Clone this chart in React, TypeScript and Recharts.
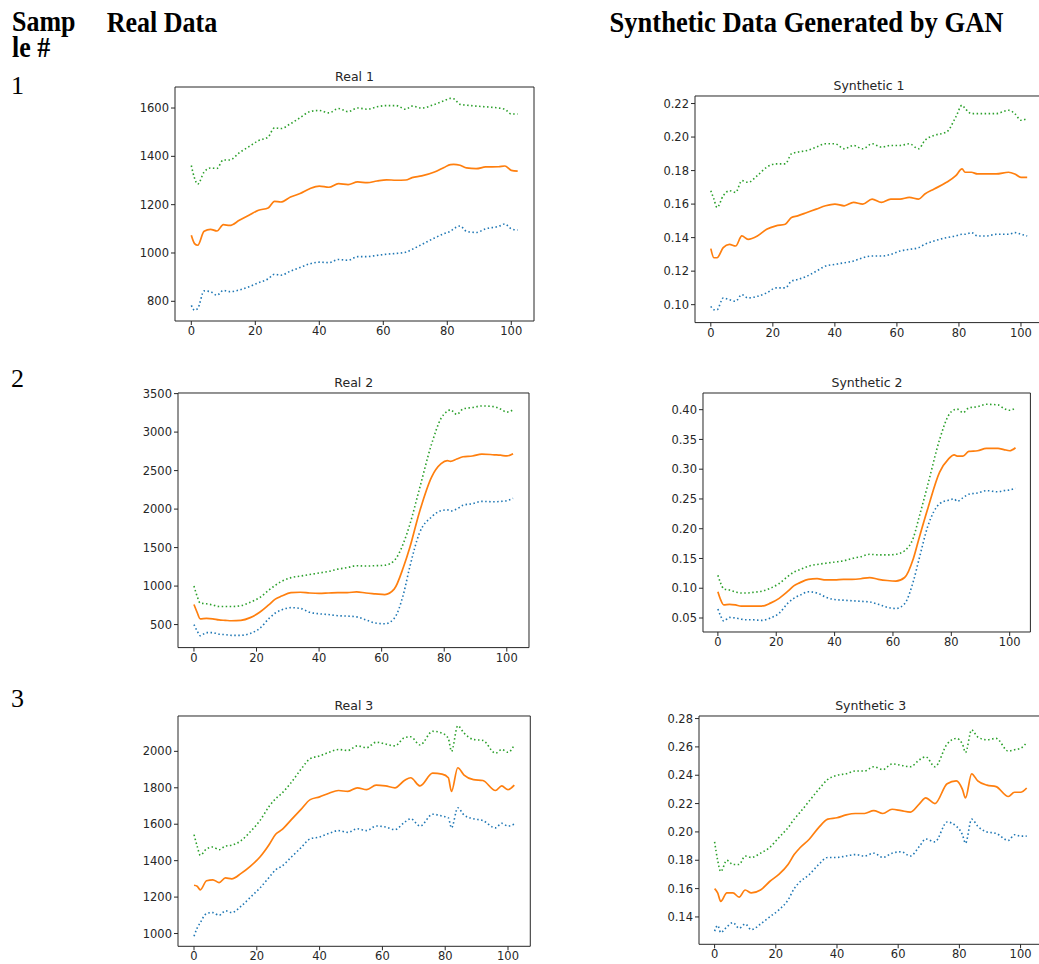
import React from 'react';
import { LineChart, Line, XAxis, YAxis, ReferenceArea } from 'recharts';

// Sample positions along the x axis (time step index)
const X = [0, 1, 2, 4, 6, 8, 10, 12, 15, 18, 21, 24, 26, 28, 31, 34, 37, 40, 43, 46, 49, 52, 55, 58, 61, 64, 67, 69, 72, 76, 79, 81, 82, 84, 86, 89, 92, 96, 98, 100, 102];
const X_TICKS = [0, 20, 40, 60, 80, 100];

// Real 1
const real1Upper = [1362, 1310, 1285, 1335, 1352, 1350, 1385, 1385, 1415, 1440, 1465, 1480, 1518, 1515, 1535, 1560, 1585, 1590, 1580, 1598, 1585, 1600, 1595, 1605, 1610, 1610, 1595, 1608, 1600, 1615, 1630, 1640, 1638, 1615, 1612, 1608, 1605, 1600, 1595, 1575, 1575];
const real1Mid = [1073, 1039, 1032, 1090, 1098, 1091, 1117, 1114, 1135, 1156, 1177, 1186, 1214, 1211, 1232, 1246, 1266, 1277, 1272, 1287, 1283, 1294, 1291, 1298, 1303, 1301, 1302, 1312, 1319, 1335, 1354, 1366, 1367, 1363, 1352, 1349, 1356, 1357, 1360, 1342, 1339];
const real1Lower = [783, 763, 770, 843, 840, 825, 845, 840, 847, 860, 877, 893, 912, 908, 925, 940, 955, 962, 960, 973, 970, 985, 985, 990, 995, 998, 1003, 1015, 1035, 1062, 1080, 1090, 1100, 1112, 1090, 1085, 1100, 1110, 1120, 1100, 1095];
const real1Ticks = [800, 1000, 1200, 1400, 1600];

// Synthetic 1
const syn1Upper = [0.168, 0.163, 0.158, 0.165, 0.168, 0.167, 0.174, 0.173, 0.177, 0.182, 0.184, 0.184, 0.190, 0.191, 0.192, 0.194, 0.196, 0.196, 0.193, 0.195, 0.193, 0.196, 0.194, 0.195, 0.195, 0.196, 0.193, 0.198, 0.201, 0.203, 0.212, 0.219, 0.217, 0.214, 0.214, 0.214, 0.214, 0.216, 0.214, 0.210, 0.211];
const syn1Mid = [0.1334, 0.128, 0.128, 0.134, 0.136, 0.135, 0.141, 0.139, 0.141, 0.145, 0.147, 0.148, 0.152, 0.153, 0.155, 0.157, 0.159, 0.160, 0.159, 0.161, 0.160, 0.163, 0.161, 0.163, 0.163, 0.164, 0.163, 0.166, 0.169, 0.173, 0.177, 0.181, 0.179, 0.179, 0.178, 0.178, 0.178, 0.179, 0.178, 0.176, 0.176];
const syn1Lower = [0.099, 0.097, 0.097, 0.104, 0.103, 0.102, 0.106, 0.104, 0.105, 0.107, 0.110, 0.110, 0.114, 0.115, 0.117, 0.120, 0.123, 0.124, 0.125, 0.126, 0.128, 0.129, 0.129, 0.130, 0.132, 0.133, 0.134, 0.136, 0.138, 0.140, 0.141, 0.142, 0.142, 0.143, 0.141, 0.141, 0.142, 0.142, 0.143, 0.142, 0.141];
const syn1Ticks = [0.10, 0.12, 0.14, 0.16, 0.18, 0.20, 0.22];

// Real 2
const real2Upper = [1000, 870, 780, 770, 755, 735, 735, 735, 745, 790, 850, 950, 1010, 1060, 1110, 1130, 1150, 1170, 1190, 1220, 1240, 1265, 1260, 1265, 1270, 1330, 1560, 1800, 2250, 2850, 3180, 3270, 3290, 3230, 3300, 3320, 3340, 3330, 3300, 3260, 3290];
const real2Mid = [760, 660, 575, 580, 575, 560, 555, 550, 555, 590, 660, 760, 830, 870, 915, 920, 910, 905, 910, 915, 915, 925, 910, 900, 890, 960, 1250, 1500, 1950, 2420, 2590, 2630, 2620, 2650, 2680, 2690, 2715, 2705, 2700, 2690, 2720];
const real2Lower = [500, 420, 355, 395, 395, 375, 370, 360, 360, 385, 450, 580, 650, 690, 720, 710, 660, 640, 630, 615, 610, 600, 560, 520, 510, 580, 900, 1250, 1680, 1900, 1980, 1990, 1975, 2000, 2050, 2070, 2100, 2095, 2100, 2110, 2140];
const real2Ticks = [500, 1000, 1500, 2000, 2500, 3000, 3500];

// Synthetic 2
const syn2Upper = [0.122, 0.108, 0.099, 0.097, 0.094, 0.092, 0.092, 0.093, 0.095, 0.100, 0.108, 0.120, 0.127, 0.131, 0.137, 0.140, 0.142, 0.144, 0.146, 0.150, 0.153, 0.157, 0.156, 0.156, 0.157, 0.163, 0.185, 0.220, 0.275, 0.350, 0.390, 0.400, 0.401, 0.395, 0.403, 0.405, 0.409, 0.408, 0.402, 0.399, 0.403];
const syn2Mid = [0.094, 0.080, 0.072, 0.073, 0.072, 0.070, 0.070, 0.070, 0.070, 0.075, 0.083, 0.095, 0.104, 0.109, 0.115, 0.116, 0.114, 0.114, 0.115, 0.115, 0.116, 0.118, 0.115, 0.113, 0.112, 0.118, 0.150, 0.185, 0.235, 0.295, 0.317, 0.324, 0.322, 0.322, 0.330, 0.331, 0.335, 0.335, 0.333, 0.331, 0.336];
const syn2Lower = [0.065, 0.053, 0.045, 0.051, 0.050, 0.048, 0.047, 0.047, 0.046, 0.050, 0.058, 0.075, 0.083, 0.088, 0.094, 0.092, 0.085, 0.081, 0.080, 0.079, 0.078, 0.077, 0.073, 0.068, 0.066, 0.074, 0.112, 0.150, 0.205, 0.242, 0.248, 0.250, 0.246, 0.252, 0.258, 0.260, 0.264, 0.262, 0.264, 0.265, 0.268];
const syn2Ticks = [0.05, 0.10, 0.15, 0.20, 0.25, 0.30, 0.35, 0.40];

// Real 3
const real3Upper = [1543, 1480, 1430, 1465, 1475, 1460, 1480, 1485, 1510, 1560, 1620, 1700, 1740, 1770, 1830, 1900, 1960, 1975, 1995, 2010, 2005, 2030, 2020, 2050, 2040, 2030, 2075, 2080, 2035, 2110, 2100, 2070, 2000, 2140, 2100, 2065, 2060, 1990, 2010, 1995, 2035];
const real3Mid = [1265, 1260, 1240, 1290, 1295, 1280, 1305, 1300, 1330, 1370, 1420, 1490, 1545, 1570, 1625, 1680, 1735, 1750, 1770, 1785, 1780, 1800, 1790, 1815, 1810, 1800, 1840, 1855, 1810, 1880, 1875, 1855, 1780, 1910, 1870, 1845, 1840, 1785, 1810, 1790, 1815];
const real3Lower = [985, 1030, 1060, 1110, 1115, 1100, 1125, 1115, 1150, 1200, 1250, 1310, 1350, 1370, 1420, 1470, 1520, 1530, 1550, 1565, 1555, 1575, 1565, 1590, 1585, 1570, 1610, 1630, 1590, 1655, 1645, 1635, 1580, 1690, 1650, 1630, 1620, 1580, 1605, 1590, 1600];
const real3Ticks = [1000, 1200, 1400, 1600, 1800, 2000];

// Synthetic 3
const syn3Upper = [0.193, 0.180, 0.172, 0.180, 0.177, 0.177, 0.183, 0.182, 0.185, 0.189, 0.196, 0.203, 0.209, 0.214, 0.222, 0.230, 0.237, 0.240, 0.241, 0.243, 0.243, 0.246, 0.244, 0.248, 0.247, 0.246, 0.251, 0.253, 0.246, 0.262, 0.266, 0.262, 0.256, 0.272, 0.267, 0.265, 0.266, 0.257, 0.258, 0.259, 0.263];
const syn3Mid = [0.160, 0.157, 0.151, 0.157, 0.157, 0.154, 0.159, 0.157, 0.159, 0.165, 0.170, 0.177, 0.184, 0.189, 0.195, 0.203, 0.209, 0.210, 0.212, 0.213, 0.213, 0.215, 0.213, 0.216, 0.215, 0.214, 0.220, 0.224, 0.220, 0.234, 0.236, 0.230, 0.224, 0.241, 0.236, 0.233, 0.232, 0.225, 0.228, 0.228, 0.231];
const syn3Lower = [0.130, 0.134, 0.129, 0.133, 0.136, 0.132, 0.135, 0.131, 0.135, 0.140, 0.145, 0.152, 0.160, 0.165, 0.170, 0.177, 0.182, 0.182, 0.183, 0.184, 0.183, 0.185, 0.182, 0.185, 0.186, 0.183, 0.190, 0.195, 0.193, 0.207, 0.204, 0.198, 0.192, 0.209, 0.204, 0.200, 0.199, 0.194, 0.198, 0.197, 0.197];
const syn3Ticks = [0.14, 0.16, 0.18, 0.20, 0.22, 0.24, 0.26, 0.28];

const X_DOMAIN: [number, number] = [-5.1, 107.1];
const BLUE = '#1f77b4';
const ORANGE = '#ff7f0e';
const GREEN = '#2ca02c';
const INK = '#262626';

type PanelCfg = {
  title: string;
  left: number; top: number; right: number; bottom: number;
  yDomain: [number, number];
  yTicks: number[];
  decimals: number;
  upper: number[]; mid: number[]; lower: number[];
};

const panels: PanelCfg[] = [
  { title: 'Real 1', left: 175, top: 86.7, right: 534, bottom: 320.7, yDomain: [718.5, 1687], yTicks: real1Ticks, decimals: 0, upper: real1Upper, mid: real1Mid, lower: real1Lower },
  { title: 'Synthetic 1', left: 695, top: 95.7, right: 1043, bottom: 322.3, yDomain: [0.0893, 0.2245], yTicks: syn1Ticks, decimals: 2, upper: syn1Upper, mid: syn1Mid, lower: syn1Lower },
  { title: 'Real 2', left: 178.3, top: 392.7, right: 529.3, bottom: 647.3, yDomain: [201, 3508], yTicks: real2Ticks, decimals: 0, upper: real2Upper, mid: real2Mid, lower: real2Lower },
  { title: 'Synthetic 2', left: 703.3, top: 392.7, right: 1030.7, bottom: 631.7, yDomain: [0.0265, 0.428], yTicks: syn2Ticks, decimals: 2, upper: syn2Upper, mid: syn2Mid, lower: syn2Lower },
  { title: 'Real 3', left: 177.7, top: 715.7, right: 530, bottom: 946, yDomain: [930, 2194], yTicks: real3Ticks, decimals: 0, upper: real3Upper, mid: real3Mid, lower: real3Lower },
  { title: 'Synthetic 3', left: 699, top: 715.7, right: 1042.3, bottom: 944, yDomain: [0.1207, 0.2818], yTicks: syn3Ticks, decimals: 2, upper: syn3Upper, mid: syn3Mid, lower: syn3Lower },
];

const PAD_L = 60;
const PAD_T = 12;
const PAD_R = 4;
const PAD_B = 26;
const tickStyle = { fontSize: 11.5, fill: INK, fontFamily: 'DejaVu Sans, sans-serif' };

function Panel({ cfg }: { cfg: PanelCfg }) {
  const w = cfg.right - cfg.left + PAD_L + PAD_R;
  const h = cfg.bottom - cfg.top + PAD_T + PAD_B;
  const data = X.map((x, i) => ({ x, u: cfg.upper[i], m: cfg.mid[i], l: cfg.lower[i] }));
  return (
    <div style={{ position: 'absolute', left: cfg.left - PAD_L, top: cfg.top - PAD_T, width: w, height: h }}>
      <LineChart width={w} height={h} data={data} margin={{ top: PAD_T, right: PAD_R, bottom: 0, left: 0 }}>
        <XAxis
          dataKey="x"
          type="number"
          domain={X_DOMAIN}
          ticks={X_TICKS}
          allowDataOverflow
          height={PAD_B}
          tickSize={4}
          tickMargin={2}
          axisLine={false}
          tickLine={{ stroke: INK }}
          tick={tickStyle}
          interval={0}
        />
        <YAxis
          type="number"
          domain={cfg.yDomain}
          ticks={cfg.yTicks}
          allowDataOverflow
          width={PAD_L}
          tickSize={4}
          tickMargin={2}
          axisLine={false}
          tickLine={{ stroke: INK }}
          tick={tickStyle}
          interval={0}
          tickFormatter={(v: number) => v.toFixed(cfg.decimals)}
        />
        <ReferenceArea
          x1={X_DOMAIN[0]}
          x2={X_DOMAIN[1]}
          y1={cfg.yDomain[0]}
          y2={cfg.yDomain[1]}
          fill="none"
          fillOpacity={0}
          stroke={INK}
          strokeWidth={1}
          ifOverflow="visible"
        />
        <Line type="monotone" dataKey="l" stroke={BLUE} strokeWidth={1.6} strokeDasharray="1.5 2.5" dot={false} activeDot={false} isAnimationActive={false} />
        <Line type="monotone" dataKey="m" stroke={ORANGE} strokeWidth={1.7} dot={false} activeDot={false} isAnimationActive={false} />
        <Line type="monotone" dataKey="u" stroke={GREEN} strokeWidth={1.6} strokeDasharray="1.5 2.5" dot={false} activeDot={false} isAnimationActive={false} />
      </LineChart>
    </div>
  );
}

const headerFont = 'Liberation Serif, Times New Roman, serif';

export default function App() {
  return (
    <div style={{ position: 'absolute', left: 0, top: 0, width: 1039, height: 964, overflow: 'hidden', background: '#fff' }}>
      {panels.map((p) => (
        <Panel key={p.title} cfg={p} />
      ))}
      <div
        style={{
          position: 'absolute',
          left: 11.7,
          top: 9.3,
          width: 72,
          fontFamily: headerFont,
          fontWeight: 'bold',
          fontSize: 28.5,
          lineHeight: '25.6px',
          wordBreak: 'break-all',
          transform: 'scaleX(0.91)',
          transformOrigin: 'left top',
          color: '#000',
        }}
      >
        Sample #
      </div>
      <svg width={1039} height={964} style={{ position: 'absolute', left: 0, top: 0, pointerEvents: 'none' }}>
        <g fontFamily={headerFont} fontWeight="bold" fontSize={28.5} fill="#000">
          <text x={106.7} y={31.7} textLength={110.6} lengthAdjust="spacingAndGlyphs">Real Data</text>
          <text x={609.5} y={31.7} textLength={394} lengthAdjust="spacingAndGlyphs">Synthetic Data Generated by GAN</text>
        </g>
        <g fontFamily={headerFont} fontSize={26} fill="#000">
          <text x={11} y={94}>1</text>
          <text x={11} y={387.3}>2</text>
          <text x={11} y={707.3}>3</text>
        </g>
        <g fontFamily="DejaVu Sans, sans-serif" fontSize={12.5} fill={INK} textAnchor="middle">
          {panels.map((p) => (
            <text key={p.title} x={(p.left + p.right) / 2} y={p.top - 5.9}>{p.title}</text>
          ))}
        </g>
      </svg>
    </div>
  );
}
